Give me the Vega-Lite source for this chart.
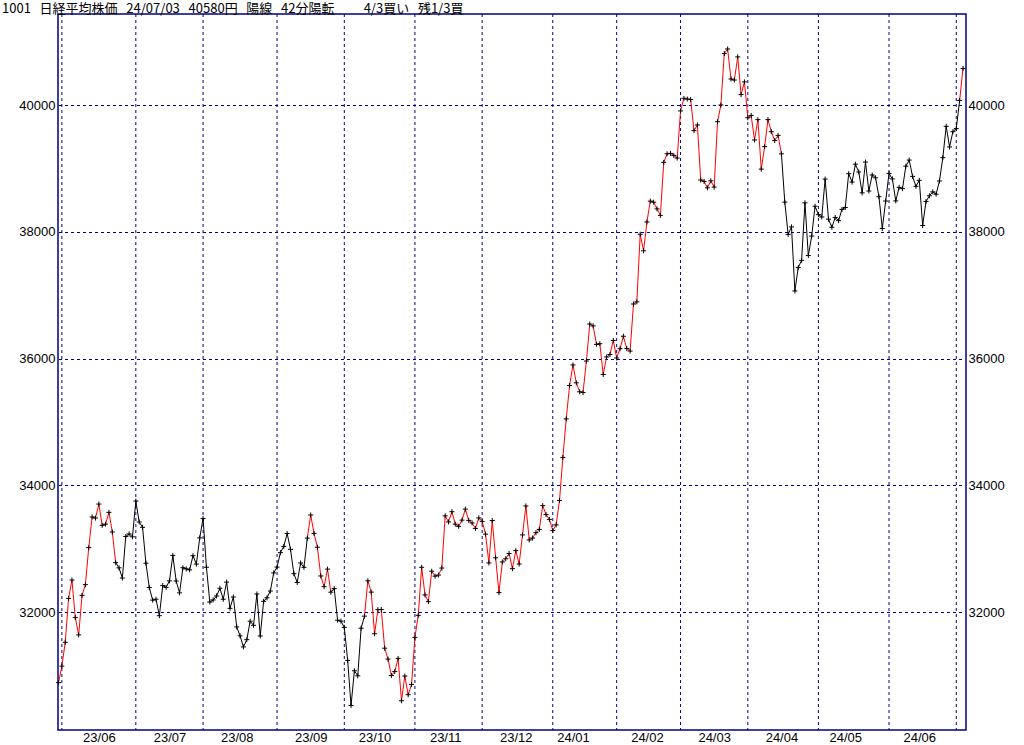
{
  "$schema": "https://vega.github.io/schema/vega-lite/v6.json",
  "width": 908,
  "height": 716,
  "autosize": "none",
  "padding": {"left": 58, "top": 14, "right": 58, "bottom": 15},
  "background": "white",
  "title": {
    "text": "1001\u00a0\u00a0\u00a0日経平均株価\u00a0\u00a0\u00a024/07/03\u00a0\u00a0\u00a040580円\u00a0\u00a0\u00a0陽線\u00a0\u00a0\u00a042分陽転\u00a0\u00a0\u00a0\u00a0\u00a0\u00a0\u00a0\u00a0\u00a0\u00a04/3買い\u00a0\u00a0\u00a0残1/3買",
    "anchor": "start",
    "frame": "group",
    "dx": -56,
    "dy": 3,
    "offset": 1,
    "fontSize": 13,
    "fontWeight": "normal",
    "font": "Noto Sans CJK JP",
    "color": "#000000"
  },
  "config": {
    "view": {"stroke": "#000080", "strokeWidth": 1.5},
    "axis": {"labelFont": "Liberation Sans", "labelFontSize": 13, "labelColor": "#000000"}
  },
  "datasets": {
    "months": [
      {"d": "2023-06-01"}, {"d": "2023-07-03"}, {"d": "2023-08-01"}, {"d": "2023-09-01"}, {"d": "2023-10-02"},
      {"d": "2023-11-01"}, {"d": "2023-12-01"}, {"d": "2024-01-04"}, {"d": "2024-02-01"}, {"d": "2024-03-01"},
      {"d": "2024-04-01"}, {"d": "2024-05-01"}, {"d": "2024-06-03"}, {"d": "2024-07-01"}
    ],
    "px": [
      {"d":"2023-05-31","v":30888,"c":"up"},
      {"d":"2023-06-01","v":31148,"c":"up"},
      {"d":"2023-06-02","v":31524,"c":"up"},
      {"d":"2023-06-05","v":32217,"c":"up"},
      {"d":"2023-06-06","v":32507,"c":"up"},
      {"d":"2023-06-07","v":31914,"c":"up"},
      {"d":"2023-06-08","v":31641,"c":"up"},
      {"d":"2023-06-09","v":32265,"c":"up"},
      {"d":"2023-06-12","v":32434,"c":"up"},
      {"d":"2023-06-13","v":33019,"c":"up"},
      {"d":"2023-06-14","v":33502,"c":"up"},
      {"d":"2023-06-15","v":33485,"c":"up"},
      {"d":"2023-06-16","v":33706,"c":"up"},
      {"d":"2023-06-19","v":33370,"c":"up"},
      {"d":"2023-06-20","v":33389,"c":"up"},
      {"d":"2023-06-21","v":33575,"c":"up"},
      {"d":"2023-06-22","v":33265,"c":"up"},
      {"d":"2023-06-23","v":32782,"c":"up"},
      {"d":"2023-06-26","v":32699,"c":"dn"},
      {"d":"2023-06-27","v":32538,"c":"dn"},
      {"d":"2023-06-28","v":33194,"c":"dn"},
      {"d":"2023-06-29","v":33234,"c":"dn"},
      {"d":"2023-06-30","v":33189,"c":"dn"},
      {"d":"2023-07-03","v":33753,"c":"dn"},
      {"d":"2023-07-04","v":33423,"c":"dn"},
      {"d":"2023-07-05","v":33339,"c":"dn"},
      {"d":"2023-07-06","v":32773,"c":"dn"},
      {"d":"2023-07-07","v":32388,"c":"dn"},
      {"d":"2023-07-10","v":32190,"c":"dn"},
      {"d":"2023-07-11","v":32204,"c":"dn"},
      {"d":"2023-07-12","v":31944,"c":"dn"},
      {"d":"2023-07-13","v":32419,"c":"dn"},
      {"d":"2023-07-14","v":32391,"c":"dn"},
      {"d":"2023-07-18","v":32494,"c":"dn"},
      {"d":"2023-07-19","v":32896,"c":"dn"},
      {"d":"2023-07-20","v":32491,"c":"dn"},
      {"d":"2023-07-21","v":32304,"c":"dn"},
      {"d":"2023-07-24","v":32701,"c":"dn"},
      {"d":"2023-07-25","v":32683,"c":"dn"},
      {"d":"2023-07-26","v":32668,"c":"dn"},
      {"d":"2023-07-27","v":32891,"c":"dn"},
      {"d":"2023-07-28","v":32759,"c":"dn"},
      {"d":"2023-07-31","v":33172,"c":"dn"},
      {"d":"2023-08-01","v":33477,"c":"dn"},
      {"d":"2023-08-02","v":32708,"c":"dn"},
      {"d":"2023-08-03","v":32159,"c":"dn"},
      {"d":"2023-08-04","v":32193,"c":"dn"},
      {"d":"2023-08-07","v":32255,"c":"dn"},
      {"d":"2023-08-08","v":32377,"c":"dn"},
      {"d":"2023-08-09","v":32204,"c":"dn"},
      {"d":"2023-08-10","v":32474,"c":"dn"},
      {"d":"2023-08-14","v":32060,"c":"dn"},
      {"d":"2023-08-15","v":32239,"c":"dn"},
      {"d":"2023-08-16","v":31767,"c":"dn"},
      {"d":"2023-08-17","v":31626,"c":"dn"},
      {"d":"2023-08-18","v":31451,"c":"dn"},
      {"d":"2023-08-21","v":31566,"c":"dn"},
      {"d":"2023-08-22","v":31857,"c":"dn"},
      {"d":"2023-08-23","v":31792,"c":"dn"},
      {"d":"2023-08-24","v":32287,"c":"dn"},
      {"d":"2023-08-25","v":31624,"c":"dn"},
      {"d":"2023-08-28","v":32170,"c":"dn"},
      {"d":"2023-08-29","v":32227,"c":"dn"},
      {"d":"2023-08-30","v":32333,"c":"dn"},
      {"d":"2023-08-31","v":32619,"c":"dn"},
      {"d":"2023-09-01","v":32711,"c":"dn"},
      {"d":"2023-09-04","v":32939,"c":"dn"},
      {"d":"2023-09-05","v":33037,"c":"dn"},
      {"d":"2023-09-06","v":33241,"c":"dn"},
      {"d":"2023-09-07","v":32991,"c":"dn"},
      {"d":"2023-09-08","v":32607,"c":"dn"},
      {"d":"2023-09-11","v":32468,"c":"dn"},
      {"d":"2023-09-12","v":32776,"c":"dn"},
      {"d":"2023-09-13","v":32707,"c":"dn"},
      {"d":"2023-09-14","v":33168,"c":"dn"},
      {"d":"2023-09-15","v":33533,"c":"up"},
      {"d":"2023-09-19","v":33243,"c":"up"},
      {"d":"2023-09-20","v":33024,"c":"up"},
      {"d":"2023-09-21","v":32571,"c":"up"},
      {"d":"2023-09-22","v":32402,"c":"up"},
      {"d":"2023-09-25","v":32679,"c":"up"},
      {"d":"2023-09-26","v":32315,"c":"up"},
      {"d":"2023-09-27","v":32372,"c":"dn"},
      {"d":"2023-09-28","v":31873,"c":"dn"},
      {"d":"2023-09-29","v":31858,"c":"dn"},
      {"d":"2023-10-02","v":31760,"c":"dn"},
      {"d":"2023-10-03","v":31238,"c":"dn"},
      {"d":"2023-10-04","v":30527,"c":"dn"},
      {"d":"2023-10-05","v":31075,"c":"dn"},
      {"d":"2023-10-06","v":30995,"c":"dn"},
      {"d":"2023-10-10","v":31747,"c":"dn"},
      {"d":"2023-10-11","v":31937,"c":"dn"},
      {"d":"2023-10-12","v":32495,"c":"up"},
      {"d":"2023-10-13","v":32316,"c":"up"},
      {"d":"2023-10-16","v":31659,"c":"up"},
      {"d":"2023-10-17","v":32040,"c":"up"},
      {"d":"2023-10-18","v":32042,"c":"up"},
      {"d":"2023-10-19","v":31431,"c":"up"},
      {"d":"2023-10-20","v":31259,"c":"up"},
      {"d":"2023-10-23","v":31000,"c":"up"},
      {"d":"2023-10-24","v":31062,"c":"up"},
      {"d":"2023-10-25","v":31270,"c":"up"},
      {"d":"2023-10-26","v":30602,"c":"up"},
      {"d":"2023-10-27","v":30992,"c":"up"},
      {"d":"2023-10-30","v":30697,"c":"up"},
      {"d":"2023-10-31","v":30859,"c":"up"},
      {"d":"2023-11-01","v":31602,"c":"up"},
      {"d":"2023-11-02","v":31950,"c":"up"},
      {"d":"2023-11-06","v":32708,"c":"up"},
      {"d":"2023-11-07","v":32272,"c":"up"},
      {"d":"2023-11-08","v":32166,"c":"up"},
      {"d":"2023-11-09","v":32646,"c":"up"},
      {"d":"2023-11-10","v":32568,"c":"up"},
      {"d":"2023-11-13","v":32585,"c":"up"},
      {"d":"2023-11-14","v":32696,"c":"up"},
      {"d":"2023-11-15","v":33520,"c":"up"},
      {"d":"2023-11-16","v":33424,"c":"up"},
      {"d":"2023-11-17","v":33585,"c":"up"},
      {"d":"2023-11-20","v":33388,"c":"up"},
      {"d":"2023-11-21","v":33354,"c":"up"},
      {"d":"2023-11-22","v":33452,"c":"up"},
      {"d":"2023-11-24","v":33626,"c":"up"},
      {"d":"2023-11-27","v":33448,"c":"up"},
      {"d":"2023-11-28","v":33408,"c":"up"},
      {"d":"2023-11-29","v":33321,"c":"up"},
      {"d":"2023-11-30","v":33487,"c":"up"},
      {"d":"2023-12-01","v":33432,"c":"up"},
      {"d":"2023-12-04","v":33231,"c":"up"},
      {"d":"2023-12-05","v":32776,"c":"up"},
      {"d":"2023-12-06","v":33446,"c":"up"},
      {"d":"2023-12-07","v":32858,"c":"up"},
      {"d":"2023-12-08","v":32308,"c":"up"},
      {"d":"2023-12-11","v":32792,"c":"up"},
      {"d":"2023-12-12","v":32843,"c":"up"},
      {"d":"2023-12-13","v":32926,"c":"up"},
      {"d":"2023-12-14","v":32686,"c":"up"},
      {"d":"2023-12-15","v":32971,"c":"up"},
      {"d":"2023-12-18","v":32759,"c":"up"},
      {"d":"2023-12-19","v":33219,"c":"up"},
      {"d":"2023-12-20","v":33676,"c":"up"},
      {"d":"2023-12-21","v":33140,"c":"up"},
      {"d":"2023-12-22","v":33169,"c":"up"},
      {"d":"2023-12-25","v":33254,"c":"up"},
      {"d":"2023-12-26","v":33306,"c":"up"},
      {"d":"2023-12-27","v":33681,"c":"up"},
      {"d":"2023-12-28","v":33540,"c":"up"},
      {"d":"2023-12-29","v":33464,"c":"up"},
      {"d":"2024-01-04","v":33288,"c":"up"},
      {"d":"2024-01-05","v":33377,"c":"up"},
      {"d":"2024-01-09","v":33763,"c":"up"},
      {"d":"2024-01-10","v":34442,"c":"up"},
      {"d":"2024-01-11","v":35050,"c":"up"},
      {"d":"2024-01-12","v":35577,"c":"up"},
      {"d":"2024-01-15","v":35902,"c":"up"},
      {"d":"2024-01-16","v":35619,"c":"up"},
      {"d":"2024-01-17","v":35478,"c":"up"},
      {"d":"2024-01-18","v":35466,"c":"up"},
      {"d":"2024-01-19","v":35963,"c":"up"},
      {"d":"2024-01-22","v":36547,"c":"up"},
      {"d":"2024-01-23","v":36518,"c":"up"},
      {"d":"2024-01-24","v":36226,"c":"up"},
      {"d":"2024-01-25","v":36236,"c":"up"},
      {"d":"2024-01-26","v":35751,"c":"up"},
      {"d":"2024-01-29","v":36027,"c":"up"},
      {"d":"2024-01-30","v":36066,"c":"up"},
      {"d":"2024-01-31","v":36287,"c":"up"},
      {"d":"2024-02-01","v":36011,"c":"up"},
      {"d":"2024-02-02","v":36158,"c":"up"},
      {"d":"2024-02-05","v":36354,"c":"up"},
      {"d":"2024-02-06","v":36161,"c":"up"},
      {"d":"2024-02-07","v":36120,"c":"up"},
      {"d":"2024-02-08","v":36863,"c":"up"},
      {"d":"2024-02-09","v":36897,"c":"up"},
      {"d":"2024-02-13","v":37964,"c":"up"},
      {"d":"2024-02-14","v":37703,"c":"up"},
      {"d":"2024-02-15","v":38158,"c":"up"},
      {"d":"2024-02-16","v":38487,"c":"up"},
      {"d":"2024-02-19","v":38470,"c":"up"},
      {"d":"2024-02-20","v":38364,"c":"up"},
      {"d":"2024-02-21","v":38262,"c":"up"},
      {"d":"2024-02-22","v":39099,"c":"up"},
      {"d":"2024-02-26","v":39234,"c":"up"},
      {"d":"2024-02-27","v":39240,"c":"up"},
      {"d":"2024-02-28","v":39208,"c":"up"},
      {"d":"2024-02-29","v":39166,"c":"up"},
      {"d":"2024-03-01","v":39911,"c":"up"},
      {"d":"2024-03-04","v":40109,"c":"up"},
      {"d":"2024-03-05","v":40098,"c":"up"},
      {"d":"2024-03-06","v":40091,"c":"up"},
      {"d":"2024-03-07","v":39599,"c":"up"},
      {"d":"2024-03-08","v":39689,"c":"up"},
      {"d":"2024-03-11","v":38820,"c":"up"},
      {"d":"2024-03-12","v":38798,"c":"up"},
      {"d":"2024-03-13","v":38696,"c":"up"},
      {"d":"2024-03-14","v":38807,"c":"up"},
      {"d":"2024-03-15","v":38708,"c":"up"},
      {"d":"2024-03-18","v":39740,"c":"up"},
      {"d":"2024-03-19","v":40004,"c":"up"},
      {"d":"2024-03-21","v":40816,"c":"up"},
      {"d":"2024-03-22","v":40888,"c":"up"},
      {"d":"2024-03-25","v":40414,"c":"up"},
      {"d":"2024-03-26","v":40398,"c":"up"},
      {"d":"2024-03-27","v":40763,"c":"up"},
      {"d":"2024-03-28","v":40168,"c":"up"},
      {"d":"2024-03-29","v":40369,"c":"up"},
      {"d":"2024-04-01","v":39803,"c":"up"},
      {"d":"2024-04-02","v":39839,"c":"up"},
      {"d":"2024-04-03","v":39452,"c":"up"},
      {"d":"2024-04-04","v":39773,"c":"up"},
      {"d":"2024-04-05","v":38992,"c":"up"},
      {"d":"2024-04-08","v":39347,"c":"up"},
      {"d":"2024-04-09","v":39773,"c":"up"},
      {"d":"2024-04-10","v":39582,"c":"up"},
      {"d":"2024-04-11","v":39443,"c":"up"},
      {"d":"2024-04-12","v":39524,"c":"up"},
      {"d":"2024-04-15","v":39233,"c":"up"},
      {"d":"2024-04-16","v":38471,"c":"dn"},
      {"d":"2024-04-17","v":37962,"c":"dn"},
      {"d":"2024-04-18","v":38080,"c":"dn"},
      {"d":"2024-04-19","v":37068,"c":"dn"},
      {"d":"2024-04-22","v":37439,"c":"dn"},
      {"d":"2024-04-23","v":37552,"c":"dn"},
      {"d":"2024-04-24","v":38460,"c":"dn"},
      {"d":"2024-04-25","v":37628,"c":"dn"},
      {"d":"2024-04-26","v":37935,"c":"dn"},
      {"d":"2024-04-30","v":38406,"c":"dn"},
      {"d":"2024-05-01","v":38274,"c":"dn"},
      {"d":"2024-05-02","v":38236,"c":"dn"},
      {"d":"2024-05-07","v":38835,"c":"dn"},
      {"d":"2024-05-08","v":38202,"c":"dn"},
      {"d":"2024-05-09","v":38074,"c":"dn"},
      {"d":"2024-05-10","v":38229,"c":"dn"},
      {"d":"2024-05-13","v":38179,"c":"dn"},
      {"d":"2024-05-14","v":38356,"c":"dn"},
      {"d":"2024-05-15","v":38386,"c":"dn"},
      {"d":"2024-05-16","v":38920,"c":"dn"},
      {"d":"2024-05-17","v":38787,"c":"dn"},
      {"d":"2024-05-20","v":39070,"c":"dn"},
      {"d":"2024-05-21","v":38947,"c":"dn"},
      {"d":"2024-05-22","v":38617,"c":"dn"},
      {"d":"2024-05-23","v":39103,"c":"dn"},
      {"d":"2024-05-24","v":38646,"c":"dn"},
      {"d":"2024-05-27","v":38900,"c":"dn"},
      {"d":"2024-05-28","v":38855,"c":"dn"},
      {"d":"2024-05-29","v":38557,"c":"dn"},
      {"d":"2024-05-30","v":38054,"c":"dn"},
      {"d":"2024-05-31","v":38488,"c":"dn"},
      {"d":"2024-06-03","v":38923,"c":"dn"},
      {"d":"2024-06-04","v":38837,"c":"dn"},
      {"d":"2024-06-05","v":38490,"c":"dn"},
      {"d":"2024-06-06","v":38704,"c":"dn"},
      {"d":"2024-06-07","v":38684,"c":"dn"},
      {"d":"2024-06-10","v":39038,"c":"dn"},
      {"d":"2024-06-11","v":39135,"c":"dn"},
      {"d":"2024-06-12","v":38877,"c":"dn"},
      {"d":"2024-06-13","v":38720,"c":"dn"},
      {"d":"2024-06-14","v":38815,"c":"dn"},
      {"d":"2024-06-17","v":38102,"c":"dn"},
      {"d":"2024-06-18","v":38482,"c":"dn"},
      {"d":"2024-06-19","v":38571,"c":"dn"},
      {"d":"2024-06-20","v":38633,"c":"dn"},
      {"d":"2024-06-21","v":38596,"c":"dn"},
      {"d":"2024-06-24","v":38805,"c":"dn"},
      {"d":"2024-06-25","v":39173,"c":"dn"},
      {"d":"2024-06-26","v":39667,"c":"dn"},
      {"d":"2024-06-27","v":39342,"c":"dn"},
      {"d":"2024-06-28","v":39583,"c":"dn"},
      {"d":"2024-07-01","v":39631,"c":"dn"},
      {"d":"2024-07-02","v":40075,"c":"dn"},
      {"d":"2024-07-03","v":40581,"c":"up"}
    ]
  },
  "encoding": {
    "x": {
      "field": "d",
      "type": "ordinal",
      "scale": {"type": "point", "padding": 0, "range": [0.5, 905]},
      "axis": {
        "values": ["2023-06-16", "2023-07-18", "2023-08-16", "2023-09-15", "2023-10-16", "2023-11-15", "2023-12-15", "2024-01-15", "2024-02-15", "2024-03-15", "2024-04-15", "2024-05-15", "2024-06-14"],
        "labelExpr": "substring(datum.value, 2, 4) + '/' + substring(datum.value, 5, 7)",
        "ticks": false,
        "grid": false,
        "domain": false,
        "title": null,
        "labelAngle": 0,
        "labelAlign": "center",
        "labelBaseline": "top",
        "labelPadding": 1,
        "labelOverlap": false
      }
    }
  },
  "layer": [
    {
      "data": {"name": "months"},
      "mark": {"type": "rule", "color": "#000080", "strokeDash": [3, 3], "strokeWidth": 1},
      "encoding": {}
    },
    {
      "data": {"name": "px"},
      "transform": [
        {"window": [
          {"op": "lead", "field": "d", "as": "d2"},
          {"op": "lead", "field": "v", "as": "v2"},
          {"op": "lead", "field": "c", "as": "c2"}
        ]},
        {"filter": "datum.d2 != null"}
      ],
      "mark": {"type": "rule", "strokeWidth": 1},
      "encoding": {
        "x2": {"field": "d2"},
        "y": {
          "field": "v",
          "type": "quantitative",
          "scale": {"domain": [30140, 41440], "zero": false, "nice": false},
          "axis": {"orient": "right", "values": [32000, 34000, 36000, 38000, 40000], "format": "d", "grid": false, "ticks": false, "domain": false, "title": null, "labelPadding": 2, "labelBaseline": "middle"}
        },
        "y2": {"field": "v2"},
        "color": {"field": "c2", "type": "nominal", "scale": {"domain": ["up", "dn"], "range": ["#ff0000", "#000000"]}, "legend": null}
      }
    },
    {
      "data": {"name": "px"},
      "mark": {"type": "point", "shape": "M-1,0H1M0,-1V1", "size": 25, "stroke": "#000000", "strokeWidth": 1, "filled": false, "opacity": 1},
      "encoding": {
        "y": {
          "field": "v",
          "type": "quantitative",
          "axis": {"orient": "left", "values": [32000, 34000, 36000, 38000, 40000], "format": "d", "grid": true, "gridColor": "#000080", "gridDash": [3, 3], "gridWidth": 1, "gridOpacity": 1, "ticks": false, "domain": false, "title": null, "labelPadding": 3, "labelBaseline": "middle"}
        }
      }
    }
  ],
  "resolve": {"axis": {"y": "independent"}}
}
